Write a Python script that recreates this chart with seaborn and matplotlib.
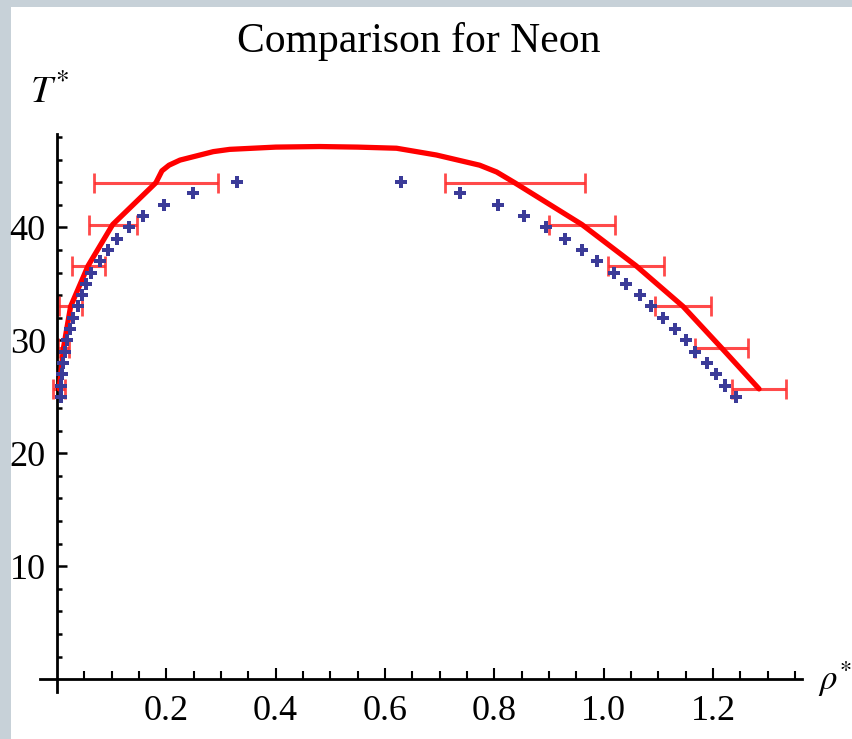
import numpy as np
import pandas as pd
import matplotlib
matplotlib.use("Agg")
import matplotlib.pyplot as plt
from matplotlib.patches import Rectangle
from matplotlib.ticker import FixedLocator, FixedFormatter, NullFormatter
import seaborn as sns

# ---------------- data ----------------
title = "Comparison for Neon"
x_label = r"$\rho^{*}$"
y_label = r"$T^{*}$"

sim_T = [25, 26, 27, 28, 29, 30, 31, 32, 33, 34,
         35, 36, 37, 38, 39, 40, 41, 42, 43, 44]
sim_rho_vapor = [0.007, 0.0075, 0.009, 0.011, 0.015, 0.019, 0.024, 0.030, 0.038, 0.046,
                 0.053, 0.062, 0.078, 0.094, 0.109, 0.131, 0.158, 0.195, 0.248, 0.330]
sim_rho_liquid = [1.241, 1.221, 1.206, 1.189, 1.167, 1.151, 1.131, 1.109, 1.087, 1.066,
                  1.040, 1.019, 0.987, 0.961, 0.929, 0.895, 0.854, 0.806, 0.737, 0.630]

curve_rho = [0.004, 0.012, 0.025, 0.057, 0.102, 0.181, 0.192, 0.205, 0.225, 0.286,
             0.316, 0.40, 0.48, 0.55, 0.621, 0.694, 0.773, 0.804, 0.837, 0.960,
             1.059, 1.145, 1.215, 1.284]
curve_T = [25.7, 29.35, 33.0, 36.6, 40.25, 43.95, 45.0, 45.5, 45.95, 46.7,
           46.9, 47.1, 47.15, 47.1, 47.0, 46.4, 45.5, 44.9, 43.95, 40.25,
           36.6, 33.0, 29.35, 25.7]

err_T = [25.7, 29.35, 33.0, 36.6, 40.25, 43.95]
err_rho_left = [0.004, 0.012, 0.025, 0.057, 0.102, 0.181]
err_half_left = [0.011, 0.010, 0.021, 0.030, 0.044, 0.114]
err_rho_right = [1.284, 1.215, 1.145, 1.059, 0.960, 0.837]
err_half_right = [0.049, 0.049, 0.051, 0.051, 0.060, 0.128]

x_major = [0.2, 0.4, 0.6, 0.8, 1.0, 1.2]
x_labels = ["0.2", "0.4", "0.6", "0.8", "1.0", "1.2"]
y_major = [10, 20, 30, 40]
y_labels = ["10", "20", "30", "40"]

# ---------------- style ----------------
sns.set_style("white")
plt.rcParams["font.family"] = ["Liberation Serif", "DejaVu Serif"]
plt.rcParams["mathtext.fontset"] = "stix"

W, H = 852, 739
fig = plt.figure(figsize=(W / 100, H / 100), dpi=100, facecolor="#c7d1d8")
fig.add_artist(Rectangle((11 / W, 0), 1, 1 - 7 / H, transform=fig.transFigure,
                         facecolor="white", edgecolor="none", zorder=-5))

ax = fig.add_axes([40 / W, 1 - 691.7 / H, (801.7 - 40) / W, (691.7 - 134) / H])
ax.set_facecolor("none")

# error bars
for cx, hw in ((err_rho_left, err_half_left), (err_rho_right, err_half_right)):
    ax.errorbar(cx, err_T, xerr=hw, fmt="none", ecolor="#ff2a2a", elinewidth=2.2,
                capsize=7, capthick=2.0, alpha=0.85, zorder=2)

# theory curve
sns.lineplot(x=curve_rho, y=curve_T, sort=False, estimator=None, color="#ff0000",
             linewidth=3.8, ax=ax, zorder=3)

# simulation points
sim_df = pd.DataFrame({
    "rho": sim_rho_vapor + sim_rho_liquid,
    "T": sim_T + sim_T,
})
sns.scatterplot(data=sim_df, x="rho", y="T", marker="P", s=75, color="#3b3b98",
                edgecolor="none", linewidth=0, ax=ax, zorder=4)

ax.set_xlim(-0.031, 1.362)
ax.set_ylim(-1.1, 48.26)
ax.set_xlabel("")
ax.set_ylabel("")

for side in ("top", "right"):
    ax.spines[side].set_visible(False)
for side in ("left", "bottom"):
    ax.spines[side].set_position(("data", 0))
    ax.spines[side].set_linewidth(2.0)
    ax.spines[side].set_color("black")

x_minor = [v for v in np.round(np.arange(0.05, 1.36, 0.05), 2) if v not in x_major]
y_minor = [v for v in range(2, 49, 2) if v not in y_major]

ax.xaxis.set_major_locator(FixedLocator(x_major))
ax.xaxis.set_major_formatter(FixedFormatter(x_labels))
ax.xaxis.set_minor_locator(FixedLocator(x_minor))
ax.xaxis.set_minor_formatter(NullFormatter())
ax.yaxis.set_major_locator(FixedLocator(y_major))
ax.yaxis.set_major_formatter(FixedFormatter(y_labels))
ax.yaxis.set_minor_locator(FixedLocator(y_minor))
ax.yaxis.set_minor_formatter(NullFormatter())

ax.tick_params(axis="x", which="both", bottom=True, top=False)
ax.tick_params(axis="y", which="both", left=True, right=False)
ax.tick_params(axis="x", which="major", direction="in", length=8, width=1.5,
               pad=11, labelsize=26, colors="black")
ax.tick_params(axis="x", which="minor", direction="in", length=5.8, width=1.5,
               colors="black")
ax.tick_params(axis="y", which="major", direction="in", length=7, width=1.8,
               pad=8, labelsize=26, colors="black")
ax.tick_params(axis="y", which="minor", direction="in", length=3.5, width=1.8,
               colors="black")

for t in ax.xaxis.get_major_ticks():
    if abs(t.get_loc() - 1.0) < 1e-9:
        t.tick1line.set_markersize(11)

fig.text(418.5 / W, 1 - 52 / H, title, ha="center", va="baseline", fontsize=30,
         color="black")
fig.text(30 / W, 1 - 103 / H, y_label, ha="left", va="baseline", fontsize=28,
         color="black")
fig.text(818 / W, 1 - 690 / H, x_label, ha="left", va="baseline", fontsize=25,
         color="black")

fig.savefig("out.png", dpi=100, facecolor=fig.get_facecolor())
